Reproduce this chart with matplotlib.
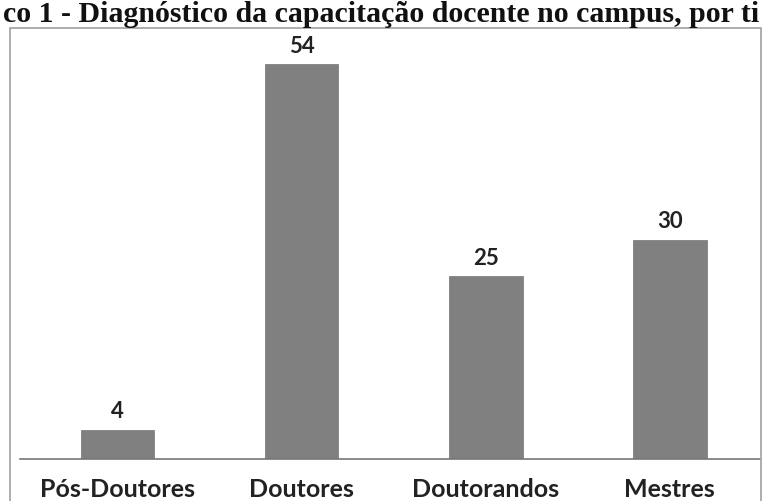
import matplotlib.pyplot as plt
from matplotlib.patches import Rectangle

# dados do gráfico
categorias = ["Pós-Doutores", "Doutores", "Doutorandos", "Mestres"]
docentes = [4, 54, 25, 30]
titulo = "co 1 - Diagnóstico da capacitação docente no campus, por ti"

W, H = 763, 502
fig = plt.figure(figsize=(W / 100, H / 100), dpi=100)

# moldura cinza (aberta na base, como no recorte original)
fig.patches.append(Rectangle((10 / W, -0.01), 751 / W, (H - 29) / H + 0.01,
                             transform=fig.transFigure, fill=False,
                             edgecolor="#a0a0a0", linewidth=1.2))

# título (recortado no original)
fig.text(0.5, 1 - 22 / H, titulo, family="Liberation Serif", weight="bold",
         fontsize=21.5, ha="center", va="baseline", color="#111111")

ax = fig.add_axes([20 / W, 42 / H, 740 / W, 445 / H])
x = range(len(categorias))
barras = ax.bar(x, docentes, width=0.40, color="#808080", edgecolor="#737373", linewidth=0.5)

for b, v in zip(barras, docentes):
    ax.annotate(str(v), (b.get_x() + b.get_width() / 2, v), xytext=(0, 6),
                textcoords="offset points", ha="center", va="bottom",
                family="Lato", weight="bold", fontsize=16, color="#222222")

ax.set_xlim(-0.53, 3.49)
ax.set_ylim(0, 60.9)
ax.set_xticks(list(x))
ax.set_xticklabels(categorias, family="Lato", weight="bold", fontsize=18, color="#222222")
ax.tick_params(axis="x", length=0, pad=13)
ax.set_yticks([])
for s in ["top", "right", "left"]:
    ax.spines[s].set_visible(False)
ax.spines["bottom"].set_color("#777777")
ax.spines["bottom"].set_linewidth(1.2)
ax.patch.set_alpha(0)

fig.savefig("out.png", dpi=100)
